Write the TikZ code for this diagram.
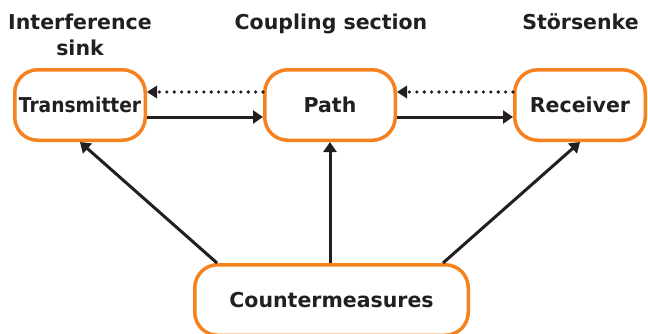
\documentclass[tikz,border=0pt]{standalone}
\usepackage{fontspec}
\setsansfont{DejaVu Sans}
\usetikzlibrary{arrows.meta}
\definecolor{boxorange}{HTML}{F5821F}
\definecolor{ink}{HTML}{231F20}
\begin{document}
\begin{tikzpicture}[x=1pt,y=1pt,
  lbl/.style={font=\sffamily\bfseries\fontsize{20.5}{26}\selectfont, text=ink, inner sep=0pt},
  blk/.style={lbl, draw=boxorange, line width=3.5pt, rounded corners=23pt, fill=white,
    minimum width=130.5pt, minimum height=70.5pt},
  solidarrow/.style={draw=ink, line width=3pt, -{Triangle[length=10pt,width=13pt]}},
  dotarrow/.style={draw=ink, line width=3.6pt, line cap=round, dash pattern=on 0pt off 7.4pt,
    -{Triangle[length=10pt,width=13pt,line width=0pt]}}
]
\useasboundingbox (0,0) rectangle (648,333);
\begin{scope}
\clip (0,0) rectangle (648,333);
\node[blk] (tx) at (80,228) {\scalebox{0.91}[1]{Transmitter}};
\node[blk] (pa) at (330,228) {Path};
\node[blk] (rx) at (580,228) {Receiver};
\node[blk, minimum width=273.5pt] (cm) at (331.5,33) {Countermeasures};
\end{scope}
\node[lbl, anchor=base, align=center] (h1) at (80,278) {Interference\\sink};
\node[lbl, anchor=base] (h2) at (331,304) {Coupling section};
\node[lbl, anchor=base] (h3) at (580.5,304) {Störsenke};
\draw[dotarrow] ([yshift=13pt]pa.west) -- ([yshift=13pt]tx.east);
\draw[dotarrow] ([yshift=13pt]rx.west) -- ([yshift=13pt]pa.east);
\draw[solidarrow] ([yshift=-12pt]tx.east) -- ([yshift=-12pt]pa.west);
\draw[solidarrow] ([yshift=-12pt]pa.east) -- ([yshift=-12pt]rx.west);
\coordinate (cl) at ([xshift=24pt]cm.north west);
\coordinate (cr) at ([xshift=-27pt]cm.north east);
\draw[solidarrow] (cl) -- (tx.south);
\draw[solidarrow] (pa.south |- cm.north) -- (pa.south);
\draw[solidarrow] (cr) -- (rx.south);
\end{tikzpicture}
\end{document}
